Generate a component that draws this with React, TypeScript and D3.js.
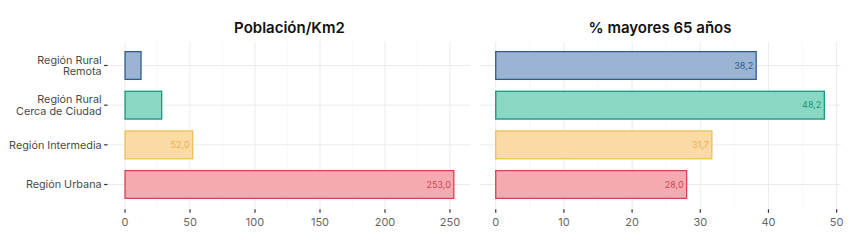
import React from "react";
import * as d3 from "d3";

const categories = ["Región Rural\nRemota", "Región Rural\nCerca de Ciudad", "Región Intermedia", "Región Urbana"];
const density = [12.3, 28.2, 52.0, 253.0];
const over65 = [38.2, 48.2, 31.7, 28.0];
const showDensityLabel = [false, false, true, true];
const densityTicks = [0, 50, 100, 150, 200, 250];
const over65Ticks = [0, 10, 20, 30, 40, 50];
const strokeColors = ["#2f5d90", "#17977c", "#f0bd5a", "#cf4656"];
const fillColors = ["#9cb4d3", "#8ad7c4", "#fbdba5", "#f5aab2"];
const textColors = ["#2f5d90", "#17977c", "#eab04a", "#cf4656"];
const titles = ["Población/Km2", "% mayores 65 años"];

const W = 856, H = 240;
const FONT = "Inter, 'Noto Sans', sans-serif";

function Panel({ x0, x1, values, ticks, title, showLabel, drawYAxis }: any) {
  const top = 41.7, bottom = 208.3;
  const maxV = d3.max(values as number[])!;
  const pad = maxV * 0.05;
  const x = d3.scaleLinear().domain([-pad, maxV + pad]).range([x0, x1]);
  const y = d3.scalePoint<string>().domain(categories).range([top, bottom]).padding(0.6);
  const step = y.step();
  const bh = step * 0.7;
  const minor: number[] = [];
  for (let i = 0; i < ticks.length - 1; i++) minor.push((ticks[i] + ticks[i + 1]) / 2);
  const dt = ticks[1] - ticks[0];
  const last = ticks[ticks.length - 1] + dt / 2;
  if (x(last) < x1) minor.push(last);
  const fmt = (v: number) => v.toFixed(1).replace(".", ",");
  return (
    <g>
      {minor.map((t: number) => (
        <line key={"m" + t} x1={x(t)} x2={x(t)} y1={top} y2={bottom} stroke="#f3f3f3" strokeWidth={0.6} />
      ))}
      {ticks.map((t: number) => (
        <line key={"g" + t} x1={x(t)} x2={x(t)} y1={top} y2={bottom} stroke="#ebebeb" strokeWidth={1} />
      ))}
      {categories.map((c) => (
        <line key={"h" + c} x1={x0} x2={x1} y1={y(c)!} y2={y(c)!} stroke="#ebebeb" strokeWidth={1} />
      ))}
      {categories.map((c, i) => (
        <rect key={"b" + c} x={x(0)} y={y(c)! - bh / 2} width={x(values[i]) - x(0)} height={bh}
          fill={fillColors[i]} stroke={strokeColors[i]} strokeWidth={1.3} />
      ))}
      {categories.map((c, i) => showLabel[i] ? (
        <text key={"l" + c} x={x(values[i]) - 3} y={y(c)!} dy="0.35em" textAnchor="end"
          fontSize={9} fill={textColors[i]} fontFamily={FONT}>{fmt(values[i])}</text>
      ) : null)}
      {ticks.map((t: number) => (
        <g key={"t" + t}>
          <line x1={x(t)} x2={x(t)} y1={bottom + 1} y2={bottom + 4.5} stroke="#333" strokeWidth={1.2} />
          <text x={x(t)} y={bottom + 14} dy="0.35em" textAnchor="middle" fontSize={11} fill="#666" fontFamily={FONT}>{t}</text>
        </g>
      ))}
      {drawYAxis && categories.map((c) => {
        const lines = c.split("\n");
        const cy = y(c)!;
        const lh = 11.5;
        return (
          <g key={"y" + c}>
            <line x1={x0 - 4.5} x2={x0 - 1} y1={cy} y2={cy} stroke="#333" strokeWidth={1.2} />
            <text x={x0 - 7} y={cy - (lines.length - 1) * lh / 2} textAnchor="end" fontSize={10.8} fill="#4a4a4a" fontFamily={FONT}>
              {lines.map((l, k) => (
                <tspan key={k} x={x0 - 7} dy={k === 0 ? "0.35em" : lh}>{l}</tspan>
              ))}
            </text>
          </g>
        );
      })}
      <text x={(x0 + x1) / 2} y={28} dy="0.35em" textAnchor="middle" fontSize={15} fontWeight={600} fill="#111" fontFamily={FONT}>{title}</text>
    </g>
  );
}

export default function App() {
  return (
    <svg width={W} height={H} style={{ position: "absolute", left: 0, top: 0, background: "#fff" }}>
      <rect width={W} height={H} fill="#fff" />
      <Panel x0={108.6} x1={470.3} values={density} ticks={densityTicks} title={titles[0]} showLabel={showDensityLabel} drawYAxis={true} />
      <Panel x0={479.3} x1={840.8} values={over65} ticks={over65Ticks} title={titles[1]} showLabel={[true, true, true, true]} drawYAxis={false} />
    </svg>
  );
}
